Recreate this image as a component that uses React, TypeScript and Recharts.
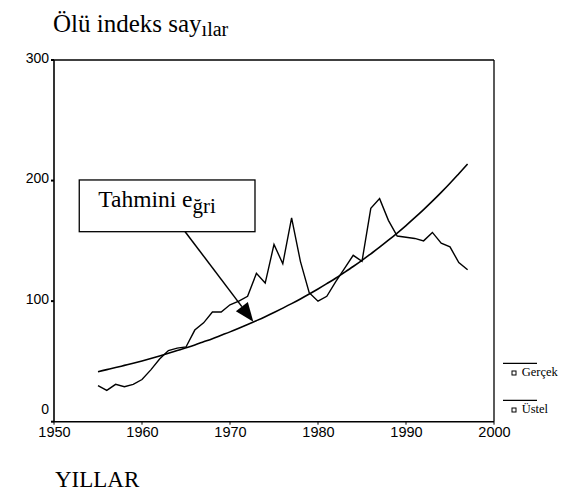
import React from 'react';
import { LineChart, Line, XAxis, YAxis, ReferenceLine, ReferenceArea, Legend } from 'recharts';

const years = [
  1955, 1956, 1957, 1958, 1959, 1960, 1961, 1962, 1963, 1964,
  1965, 1966, 1967, 1968, 1969, 1970, 1971, 1972, 1973, 1974,
  1975, 1976, 1977, 1978, 1979, 1980, 1981, 1982, 1983, 1984,
  1985, 1986, 1987, 1988, 1989, 1990, 1991, 1992, 1993, 1994,
  1995, 1996, 1997,
];
const gercek = [
  30, 26, 31, 29, 31, 35, 43, 52, 59, 61,
  62, 76, 82, 91, 91, 97, 100, 104, 123, 115,
  147, 131, 169, 133, 107, 100, 104, 116, 127, 138,
  133, 177, 185, 167, 154, 153, 152, 150, 157, 148,
  145, 132, 126,
];
const ustel = [
  41.5, 43.2, 44.9, 46.7, 48.5, 50.4, 52.4, 54.5, 56.7, 59.0,
  61.3, 63.7, 66.3, 68.9, 71.7, 74.5, 77.5, 80.6, 83.8, 87.1,
  90.6, 94.2, 97.9, 101.8, 105.9, 110.1, 114.5, 119.0, 123.8, 128.7,
  133.8, 139.2, 144.7, 150.5, 156.5, 162.7, 169.2, 175.9, 182.9, 190.2,
  197.8, 205.7, 213.7,
];
const xTicks = [1950, 1960, 1970, 1980, 1990, 2000];
const yTicks = [0, 100, 200, 300];

const seriesNames = { gercek: 'Gerçek', ustel: 'Üstel' };
const titleMain = 'Ölü indeks say';
const titleSub = 'ılar';
const xTitle = 'YILLAR';
const boxMain = 'Tahmini e';
const boxSub = 'ğri';

// annotation anchors in data coordinates
const boxArea = { x1: 1952.87, x2: 1972.84, y1: 157.6, y2: 200.5 };
const arrowFrom = { x: 1964.9, y: 157.6 };
const arrowTo = { x: 1972.65, y: 82.9 };

const data = years.map((yr, i) => ({ year: yr, gercek: gercek[i], ustel: ustel[i] }));

const SERIF = '"Liberation Serif", "Times New Roman", serif';
const SANS = '"Liberation Sans", Arial, sans-serif';

const YTick = (props: any) => {
  const { x, y, payload } = props;
  const off = payload.value === 0 ? -12.5 : -2.5;
  return (
    <text x={x} y={y + off + 5} textAnchor="end" fontFamily={SANS} fontSize={14} fill="#000">
      {payload.value}
    </text>
  );
};

const XTick = (props: any) => {
  const { x, y, payload } = props;
  return (
    <text x={x + 0.5} y={y + 10} textAnchor="middle" fontFamily={SANS} fontSize={14.5} fill="#000">
      {payload.value}
    </text>
  );
};

const ArrowShape = (p: any) => {
  const { x1, y1, x2, y2 } = p;
  const dx = x2 - x1;
  const dy = y2 - y1;
  const len = Math.hypot(dx, dy) || 1;
  const ux = dx / len;
  const uy = dy / len;
  const hl = 19;
  const hw = 7.5;
  const bx = x2 - ux * hl;
  const by = y2 - uy * hl;
  const pts = `${x2},${y2} ${bx - uy * hw},${by + ux * hw} ${bx + uy * hw},${by - ux * hw}`;
  return (
    <g>
      <line x1={x1} y1={y1} x2={bx} y2={by} stroke="#000" strokeWidth={1.5} />
      <polygon points={pts} fill="#000" />
    </g>
  );
};

const BoxShape = (p: any) => {
  const { x, y, width, height } = p;
  return (
    <g>
      <rect x={x} y={y} width={width} height={height} fill="#fff" stroke="#000" strokeWidth={1.3} />
      <text x={x + 19} y={y + 26.7} fontFamily={SERIF} fontSize={23.5} fill="#000">
        {boxMain}
        <tspan fontSize={21} dy={6.5}>{boxSub}</tspan>
      </text>
    </g>
  );
};

const renderLegend = (props: any) => {
  const payload = props.payload || [];
  return (
    <svg width={80} height={70} style={{ overflow: 'visible', display: 'block' }}>
      {payload.map((entry: any, i: number) => {
        const oy = i * 37;
        return (
          <g key={i}>
            <line x1={3} y1={8.3 + oy} x2={37} y2={8.3 + oy} stroke="#000" strokeWidth={1.3} />
            <rect x={12} y={16 + oy} width={4} height={4} fill="none" stroke="#000" strokeWidth={1} />
            <text x={21.7} y={20.5 + oy} fontFamily={SERIF} fontSize={12.5} fill="#000">
              {entry.value}
            </text>
          </g>
        );
      })}
    </svg>
  );
};

export default function App() {
  return (
    <div style={{ position: 'absolute', left: 0, top: 0, width: 570, height: 492, background: '#fff' }}>
      <LineChart
        width={570}
        height={492}
        data={data}
        margin={{ top: 60, right: 76, bottom: 40.3, left: 0 }}
      >
        <XAxis
          dataKey="year"
          type="number"
          domain={[1950, 2000]}
          ticks={xTicks}
          interval={0}
          height={30}
          tickSize={3}
          tickMargin={2}
          axisLine={{ stroke: '#000', strokeWidth: 1.6 }}
          tickLine={{ stroke: '#000' }}
          tick={<XTick />}
        />
        <YAxis
          type="number"
          domain={[0, 300]}
          ticks={yTicks}
          interval={0}
          width={54}
          tickSize={3}
          tickMargin={2}
          axisLine={{ stroke: '#000', strokeWidth: 1.6 }}
          tickLine={{ stroke: '#000', strokeWidth: 2 }}
          tick={<YTick />}
        />
        <ReferenceLine y={300} stroke="#000" strokeWidth={1.3} />
        <ReferenceLine x={2000} stroke="#000" strokeWidth={1.3} />
        <Line
          type="linear"
          dataKey="gercek"
          name={seriesNames.gercek}
          stroke="#000"
          strokeWidth={1.4}
          dot={false}
          isAnimationActive={false}
        />
        <Line
          type="monotone"
          dataKey="ustel"
          name={seriesNames.ustel}
          stroke="#000"
          strokeWidth={1.6}
          dot={false}
          isAnimationActive={false}
        />
        <ReferenceArea
          x1={boxArea.x1}
          x2={boxArea.x2}
          y1={boxArea.y1}
          y2={boxArea.y2}
          shape={<BoxShape />}
        />
        <ReferenceLine
          segment={[arrowFrom, arrowTo]}
          shape={<ArrowShape />}
        />
        <Legend
          content={renderLegend}
          wrapperStyle={{ position: 'absolute', left: 500, top: 355, width: 0, height: 0, overflow: 'visible' }}
        />
      </LineChart>
      <svg
        width={570}
        height={492}
        style={{ position: 'absolute', left: 0, top: 0, pointerEvents: 'none' }}
      >
        <text x={53} y={32.3} fontFamily={SERIF} fontSize={25} fill="#000">
          {titleMain}
          <tspan fontSize={20} dy={4}>{titleSub}</tspan>
        </text>
        <text x={55} y={486.5} fontFamily={SERIF} fontSize={23} fill="#000">
          {xTitle}
        </text>
      </svg>
    </div>
  );
}
